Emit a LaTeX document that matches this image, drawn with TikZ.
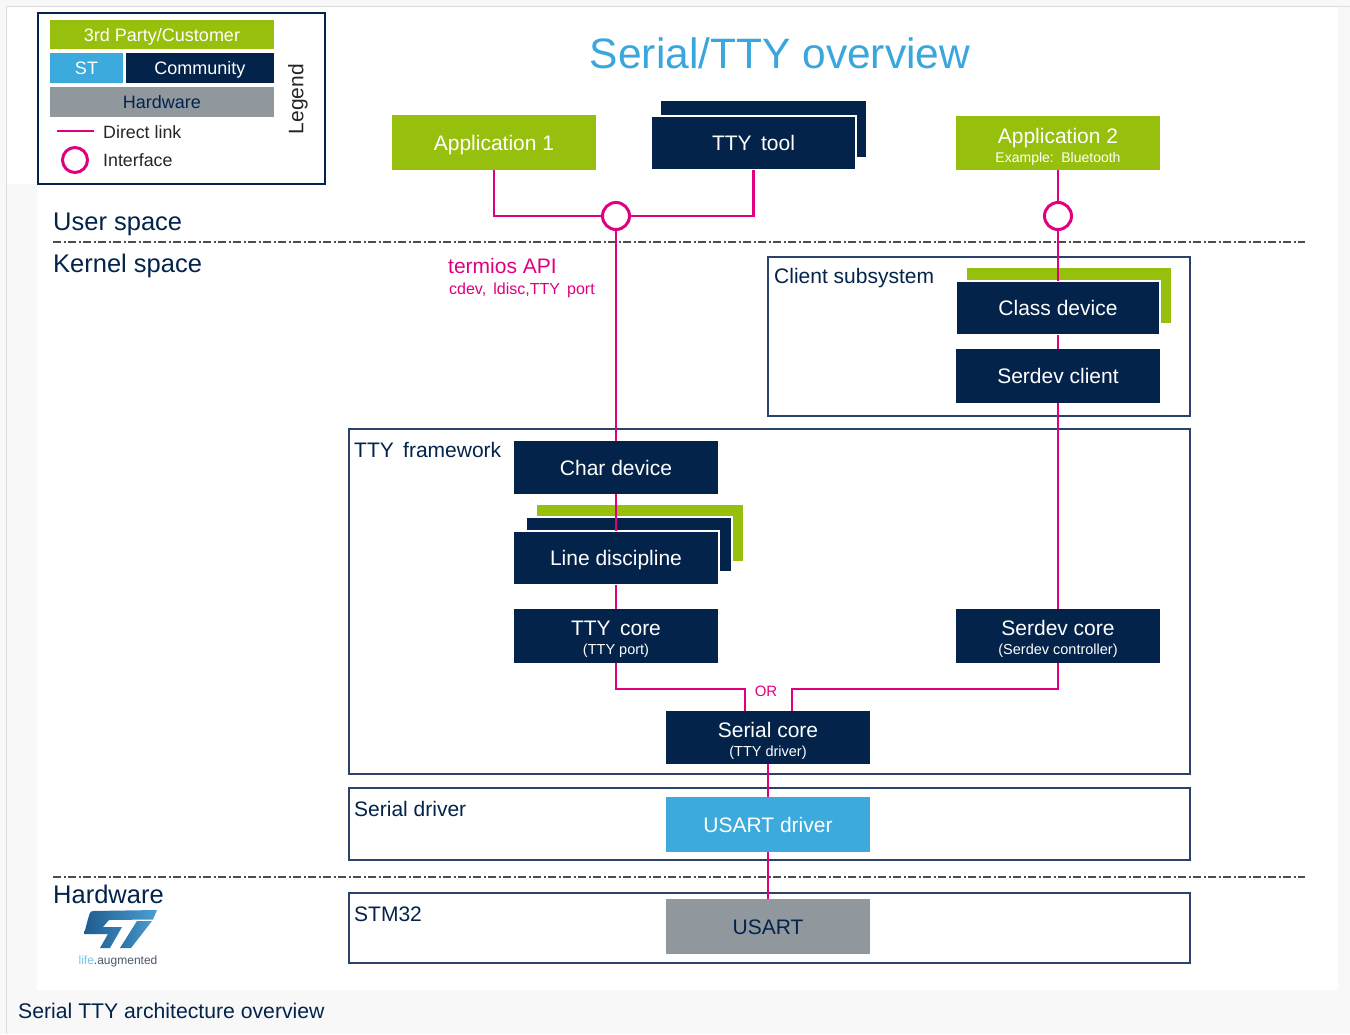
\documentclass[tikz,border=0pt]{standalone}
\usepackage{fontspec}
\setmainfont{Liberation Sans}
\definecolor{stnavy}{HTML}{03234B}
\definecolor{stgreen}{HTML}{97C00E}
\definecolor{stblue}{HTML}{3CAADC}
\definecolor{stgray}{HTML}{90989E}
\definecolor{stpink}{HTML}{E0007F}
\definecolor{sttitle}{HTML}{39A6DE}
\definecolor{framecol}{HTML}{2B436B}
\definecolor{bggray}{HTML}{F8F8F8}
\definecolor{edgegray}{HTML}{DDDDDD}
\definecolor{sepgray}{HTML}{4D4D4D}
\definecolor{logoA}{HTML}{1F5C8F}
\definecolor{logoB}{HTML}{4A9FD2}
\definecolor{logogray}{HTML}{4A5868}
\newcommand{\firstline}{\rule{0pt}{22pt}}
\newcommand{\subline}{\fontsize{14.5}{15}\selectfont}
\begin{document}
\begin{tikzpicture}[x=1pt,y=-1pt,
  box/.style={rectangle, inner sep=0pt, outer sep=0pt, minimum width=204pt, minimum height=54pt,
    text=white, font=\fontsize{21}{19}\selectfont, align=center},
  oneline/.style={text height=15pt, text depth=0pt},
  navybox/.style={box, fill=stnavy},
  greenbox/.style={box, fill=stgreen},
  frontbox/.style={navybox, draw=white, line width=2pt},
  legbox/.style={rectangle, inner sep=0pt, outer sep=0pt, text=white, text height=13pt, text depth=0pt, font=\fontsize{18}{20}\selectfont},
  panel/.style={draw=framecol, line width=1.4pt},
  paneltext/.style={anchor=base west, inner sep=0pt, text=stnavy, font=\fontsize{21}{24}\selectfont},
  spacetext/.style={anchor=base west, inner sep=0pt, text=stnavy, font=\fontsize{25.5}{28}\selectfont},
  link/.style={draw=stpink, line width=2.5pt},
  iface/.style={circle, draw=stpink, line width=3pt, fill=white, minimum size=27pt, inner sep=0pt},
  sepline/.style={draw=sepgray, line width=1.8pt, dash pattern=on 8pt off 2.5pt on 2pt off 2.5pt}
]
\useasboundingbox (0,0) rectangle (1350,1034);
% background
\fill[bggray] (0,0) rectangle (1350,1034);
\fill[white] (37,12) rectangle (1338,990);
\fill[white] (7,7) rectangle (37,184);
\fill[white] (7,7) rectangle (1338,12);
\draw[edgegray, line width=1pt] (6,1034) -- (6,6) -- (1350,6);

% legend
\draw[stnavy, line width=2.5pt] (38,13) rectangle (325,184);
\node[legbox, fill=stgreen, minimum width=224pt, minimum height=29pt] (lgreen) at (162,34.5) {3rd Party/Customer};
\node[legbox, fill=stblue, minimum width=73pt, minimum height=30pt] (lst) at (86.5,68) {ST};
\node[legbox, fill=stnavy, minimum width=148pt, minimum height=30pt] (lcom) at (200,68) {Community};
\node[legbox, fill=stgray, text=stnavy, minimum width=224pt, minimum height=30pt] (lhw) at (162,102) {Hardware};
\coordinate (dl1) at (57,131);
\coordinate (dl2) at (94,131);
\draw[link, line width=2pt] (dl1) -- (dl2);
\node[anchor=west, inner sep=0pt, text=black!85, font=\fontsize{17.8}{20}\selectfont] (ldl) at (103,132) {Direct link};
\node[iface, minimum size=25pt] (lif) at (75,160) {};
\node[anchor=west, inner sep=0pt, text=black!85, font=\fontsize{17.8}{20}\selectfont] (lift) at (103,160) {Interface};
\node[rotate=90, inner sep=0pt, text=black!85, font=\fontsize{21}{24}\selectfont] (lleg) at (298,99) {Legend};

% title
\node[text=sttitle, font=\fontsize{42.5}{46}\selectfont, inner sep=0pt] (title) at (780,53) {Serial/TTY overview};

% space labels and separators
\node[spacetext] (us) at (53,230) {User space};
\node[spacetext] (ks) at (53,272) {Kernel space};
\node[spacetext] (hw) at (53,903) {Hardware};
\coordinate (s1a) at (53,242); \coordinate (s1b) at (1305,242);
\coordinate (s2a) at (53,877); \coordinate (s2b) at (1305,877);
\draw[sepline] (s1a) -- (s1b);
\draw[sepline] (s2a) -- (s2b);

% panels
\draw[panel] (768,257) rectangle (1190,416);
\node[paneltext] (tcs) at (774,283) {Client subsystem};
\draw[panel] (349,429) rectangle (1190,774);
\node[paneltext] (ttf) at (354,457) {TTY\, framework};
\draw[panel] (349,788) rectangle (1190,860);
\node[paneltext] (tsd) at (354,816) {Serial driver};
\draw[panel] (349,893) rectangle (1190,963);
\node[paneltext] (tstm) at (354,921) {STM32};

% user-space boxes
\node[greenbox, oneline, minimum width=204pt, minimum height=55pt] (app1) at (494,142.5) {Application 1};
\fill[stnavy] (661,101) rectangle (866,157);
\node[frontbox, oneline, minimum width=205pt] (tty) at (753.5,143) {TTY\, tool};
\node[greenbox] (app2) at (1058,143) {\firstline Application 2\\{\fontsize{14}{15}\selectfont Example:\, Bluetooth}};
\node[iface] (c1) at (616,216) {};
\node[iface] (c2) at (1058,216) {};

% termios label
\node[anchor=base west, inner sep=0pt, text=stpink, font=\fontsize{21}{24}\selectfont] (termios) at (448,273) {termios API};
\node[anchor=base west, inner sep=0pt, text=stpink, font=\fontsize{16}{18}\selectfont] (cdev) at (449,294) {cdev,\, ldisc,TTY\, port};

% client subsystem
\fill[stgreen] (967,268) rectangle (1171,323);
\node[frontbox, oneline] (classdev) at (1058,308) {Class device};
\node[navybox, oneline] (sclient) at (1058,376) {Serdev client};

% TTY framework
\node[navybox, oneline, minimum height=53pt] (chardev) at (616,467.5) {Char device};
\fill[stgreen] (537,505) rectangle (743,561);
\draw[fill=stnavy, draw=white, line width=2pt] (526,517) rectangle (732,572);
\node[frontbox, oneline, minimum width=206pt] (ldisc) at (616,558) {Line discipline};
\node[navybox] (ttycore) at (616,635.5) {\firstline TTY\, core\\{\subline (TTY port)}};
\node[navybox] (sdcore) at (1058,635.5) {\firstline Serdev core\\{\subline (Serdev controller)}};
\node[navybox, minimum height=53pt] (score) at (768,737.5) {\firstline Serial core\\{\subline (TTY driver)}};
\node[text=stpink, inner sep=0pt, font=\fontsize{15}{17}\selectfont] (or) at (766,691) {OR};

% drivers and hardware
\node[box, oneline, fill=stblue, minimum height=55pt] (usartdrv) at (768,824.5) {USART driver};
\node[box, oneline, fill=stgray, text=stnavy, minimum height=55pt] (usart) at (768,926.5) {USART};

% connectors
\draw[link] (app1.south) |- (c1.west);
\draw[link] (tty.south) |- (c1.east);
\draw[link] (c1.south) -- (chardev.north);
\draw[link] (app2.south) -- (c2.north);
\draw[link] (c2.south) -- (classdev.north);
\draw[link] (classdev.south) -- (sclient.north);
\draw[link] (sclient.south) -- (sdcore.north);
\draw[link] (chardev.south) -- (ldisc.north);
\draw[link] (ldisc.south) -- (ttycore.north);
\coordinate (jL) at (745,689);
\coordinate (jR) at (792,689);
\draw[link] (ttycore.south) |- (jL) -- (jL |- score.north);
\draw[link] (sdcore.south) |- (jR) -- (jR |- score.north);
\draw[link, line width=2pt] (score.south) -- (usartdrv.north);
\draw[link, line width=2pt] (usartdrv.south) -- (usart.north);

% ST logo
\shade[left color=logoA, right color=logoB]
  (93,911) -- (157,910) -- (153,919.5) -- (109,920) -- (103,927) -- (122,927)
  -- (110,948) -- (100,948) -- (108,934) -- (84,934) -- (88,919) to[out=70,in=180] cycle;
\shade[left color=logoA!70!logoB, right color=logoB]
  (137,921) -- (152,921) -- (131,948) -- (120,948) -- cycle;
\node[inner sep=0pt, font=\fontsize{12}{13}\selectfont] (life) at (118,961) {\textcolor{stblue!70}{life}\textcolor{logogray}{.augmented}};

% caption
\node[anchor=base west, inner sep=0pt, text=stnavy, font=\fontsize{21.2}{24}\selectfont] (caption) at (18,1018) {Serial TTY architecture overview};
\end{tikzpicture}
\end{document}
